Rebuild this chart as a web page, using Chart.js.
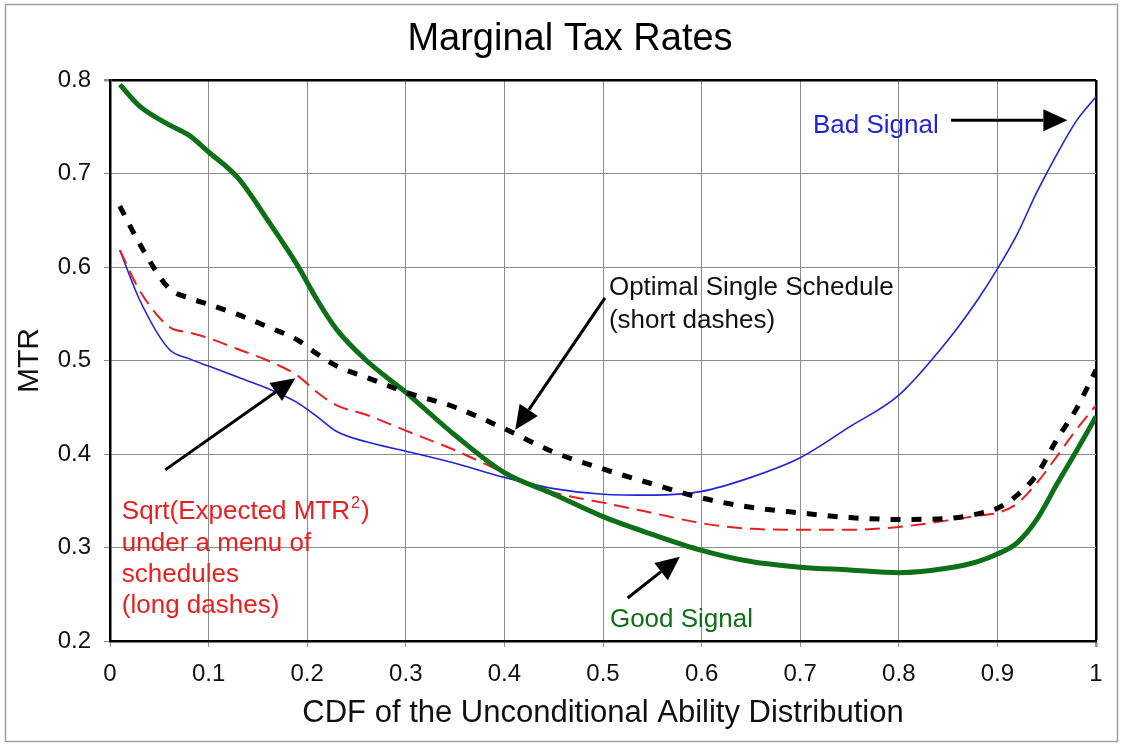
<!DOCTYPE html>
<html>
<head>
<meta charset="utf-8">
<title>Marginal Tax Rates</title>
<script src="https://cdn.jsdelivr.net/npm/chart.js@4.4.1/dist/chart.umd.min.js"></script>
<style>
  html, body { margin: 0; padding: 0; background: #fff; }
  canvas { display: block; }
</style>
</head>
<body>
<canvas id="mtrChart" width="1128" height="746"></canvas>
<script>
'use strict';

let cdf = [0.01, 0.03, 0.06, 0.08, 0.1, 0.13, 0.16, 0.19, 0.21, 0.23, 0.26, 0.3, 0.35, 0.4, 0.45,
  0.5, 0.55, 0.6, 0.65, 0.7, 0.75, 0.8, 0.85, 0.88, 0.9, 0.92, 0.94, 0.96, 0.98, 1.0];

// MTR for each series
let goodSignal = [0.795, 0.772, 0.752, 0.741, 0.723, 0.695, 0.65, 0.602, 0.565, 0.533, 0.5, 0.466, 0.42, 0.38, 0.357,
  0.333, 0.314, 0.297, 0.285, 0.279, 0.276, 0.273, 0.278, 0.285, 0.293, 0.305, 0.33, 0.367, 0.403, 0.44];
let badSignal = [0.618, 0.565, 0.512, 0.502, 0.494, 0.482, 0.47, 0.455, 0.44, 0.424, 0.413, 0.403, 0.39, 0.375, 0.363,
  0.357, 0.356, 0.36, 0.375, 0.396, 0.429, 0.463, 0.522, 0.565, 0.598, 0.635, 0.68, 0.72, 0.756, 0.782];
let singleSchedule = [0.665, 0.625, 0.577, 0.567, 0.56, 0.549, 0.536, 0.522, 0.507, 0.494, 0.482, 0.466, 0.45, 0.427, 0.402,
  0.384, 0.368, 0.353, 0.343, 0.337, 0.332, 0.33, 0.331, 0.336, 0.342, 0.356, 0.378, 0.415, 0.448, 0.49];
let menuSchedules = [0.618, 0.575, 0.536, 0.53, 0.524, 0.512, 0.5, 0.484, 0.466, 0.452, 0.442, 0.425, 0.404, 0.38, 0.359,
  0.348, 0.337, 0.326, 0.32, 0.319, 0.319, 0.322, 0.329, 0.334, 0.337, 0.347, 0.369, 0.397, 0.426, 0.452];

// tick labels
let xTicks = [0, 0.1, 0.2, 0.3, 0.4, 0.5, 0.6, 0.7, 0.8, 0.9, 1];
let yTicks = [0.2, 0.3, 0.4, 0.5, 0.6, 0.7, 0.8];

let blue = 'rgb(35, 35, 215)';
let green = 'rgb(14, 112, 22)';
let red = 'rgb(230, 32, 32)';
let fontFamily = '"Liberation Sans", Arial, sans-serif';

// Annotation arrows, in data units (from -> tip)
let arrows = [
  {from: [0.853, 0.757], to: [0.971, 0.757]},
  {from: [0.502, 0.567], to: [0.411, 0.426]},
  {from: [0.056, 0.383], to: [0.188, 0.481]},
  {from: [0.525, 0.246], to: [0.578, 0.29]}
];

// Annotation texts, left edge and baseline in data units
let notes = [
  {text: 'Bad Signal', x: 0.713, y: 0.743, color: blue},
  {text: 'Optimal Single Schedule', x: 0.506, y: 0.570, color: '#111'},
  {text: '(short dashes)', x: 0.506, y: 0.535, color: '#111'},
  {text: 'Sqrt(Expected MTR', sup: '2', after: ')', x: 0.012, y: 0.3305, color: red},
  {text: 'under a menu of', x: 0.012, y: 0.2963, color: red},
  {text: 'schedules', x: 0.012, y: 0.263, color: red},
  {text: '(long dashes)', x: 0.012, y: 0.230, color: red},
  {text: 'Good Signal', x: 0.507, y: 0.215, color: green}
];

function toPoints(values){
  let pts = [];
  for (let i = 0; i < cdf.length; i++){
    pts.push({x: cdf[i], y: values[i]});
  }
  return pts;
}

// frame, title, arrows and texts
let extrasPlugin = {
  id: 'extras',
  beforeDraw(chart){
    let ctx = chart.ctx;
    ctx.save();
    ctx.fillStyle = '#fff';
    ctx.fillRect(0, 0, chart.width, chart.height);
    ctx.strokeStyle = '#a0a0a0';
    ctx.lineWidth = 1.5;
    ctx.strokeRect(5.5, 4.5, 1112, 737);
    ctx.restore();
  },
  afterDraw(chart){
    let ctx = chart.ctx;
    let xs = chart.scales.x;
    let ys = chart.scales.y;
    ctx.save();

    ctx.fillStyle = '#000';
    ctx.font = '38px ' + fontFamily;
    ctx.textAlign = 'center';
    ctx.textBaseline = 'alphabetic';
    ctx.fillText('Marginal Tax Rates', 570, 50);

    for (let a of arrows){
      let x1 = xs.getPixelForValue(a.from[0]);
      let y1 = ys.getPixelForValue(a.from[1]);
      let x2 = xs.getPixelForValue(a.to[0]);
      let y2 = ys.getPixelForValue(a.to[1]);
      let ang = Math.atan2(y2 - y1, x2 - x1);
      let headLen = 24;
      let headHalf = 11;
      let bx = x2 - headLen * Math.cos(ang);
      let by = y2 - headLen * Math.sin(ang);
      ctx.strokeStyle = '#000';
      ctx.lineWidth = 3;
      ctx.beginPath();
      ctx.moveTo(x1, y1);
      ctx.lineTo(bx, by);
      ctx.stroke();
      ctx.fillStyle = '#000';
      ctx.beginPath();
      ctx.moveTo(x2, y2);
      ctx.lineTo(bx + headHalf * Math.sin(ang), by - headHalf * Math.cos(ang));
      ctx.lineTo(bx - headHalf * Math.sin(ang), by + headHalf * Math.cos(ang));
      ctx.closePath();
      ctx.fill();
    }

    ctx.textAlign = 'left';
    for (let n of notes){
      let px = xs.getPixelForValue(n.x);
      let py = ys.getPixelForValue(n.y);
      ctx.fillStyle = n.color;
      ctx.font = '26px ' + fontFamily;
      ctx.fillText(n.text, px, py);
      if (n.sup){
        let w = ctx.measureText(n.text).width;
        ctx.font = '16px ' + fontFamily;
        ctx.fillText(n.sup, px + w + 1, py - 11);
        let w2 = ctx.measureText(n.sup).width;
        ctx.font = '26px ' + fontFamily;
        ctx.fillText(n.after, px + w + w2 + 2, py);
      }
    }
    ctx.restore();
  }
};

let ctx = document.getElementById('mtrChart').getContext('2d');
new Chart(ctx, {
  type: 'line',
  data: {
    datasets: [
      {
        label: 'Optimal Single Schedule',
        data: toPoints(singleSchedule),
        borderColor: '#000',
        borderWidth: 5,
        borderDash: [10, 11],
        order: 1
      },
      {
        label: 'Good Signal',
        data: toPoints(goodSignal),
        borderColor: green,
        borderWidth: 5,
        order: 2
      },
      {
        label: 'Sqrt(Expected MTR^2)',
        data: toPoints(menuSchedules),
        borderColor: red,
        borderWidth: 2,
        borderDash: [15, 8],
        order: 3
      },
      {
        label: 'Bad Signal',
        data: toPoints(badSignal),
        borderColor: blue,
        borderWidth: 1.6,
        order: 4
      }
    ]
  },
  options: {
    responsive: false,
    animation: false,
    devicePixelRatio: 1,
    layout: {
      padding: {left: 6, right: 32, top: 80, bottom: 0}
    },
    elements: {
      point: {radius: 0},
      line: {cubicInterpolationMode: 'monotone', fill: false}
    },
    plugins: {
      legend: {display: false},
      tooltip: {enabled: false}
    },
    scales: {
      x: {
        type: 'linear',
        min: 0,
        max: 1,
        afterFit(scale){ scale.height = 105; },
        afterBuildTicks(scale){ scale.ticks = xTicks.map(v => ({value: v})); },
        ticks: {
          padding: 13,
          color: '#111',
          font: {family: fontFamily, size: 24},
          callback: v => String(v)
        },
        grid: {
          color: c => (c.tick && c.tick.value === 1) ? '#000' : '#8c8c8c',
          lineWidth: c => (c.tick && c.tick.value === 1) ? 2.5 : 1,
          tickLength: 6,
          tickColor: '#8c8c8c'
        },
        border: {color: '#000', width: 2.5},
        title: {
          display: true,
          text: 'CDF of the Unconditional Ability Distribution',
          color: '#111',
          font: {family: fontFamily, size: 31},
          padding: {top: 0, bottom: 14}
        }
      },
      y: {
        type: 'linear',
        min: 0.2,
        max: 0.8,
        afterFit(scale){ scale.width = 104; },
        afterBuildTicks(scale){ scale.ticks = yTicks.map(v => ({value: v})); },
        ticks: {
          padding: 13,
          color: '#111',
          font: {family: fontFamily, size: 24},
          callback: v => String(v)
        },
        grid: {
          color: c => (c.tick && c.tick.value === 0.8) ? '#000' : '#8c8c8c',
          lineWidth: c => (c.tick && c.tick.value === 0.8) ? 2.5 : 1,
          tickLength: 6,
          tickColor: '#8c8c8c'
        },
        border: {color: '#000', width: 2.5},
        title: {
          display: true,
          text: 'MTR',
          color: '#111',
          font: {family: fontFamily, size: 30},
          padding: {top: 6, bottom: 0}
        }
      }
    }
  },
  plugins: [extrasPlugin]
});
</script>
</body>
</html>
